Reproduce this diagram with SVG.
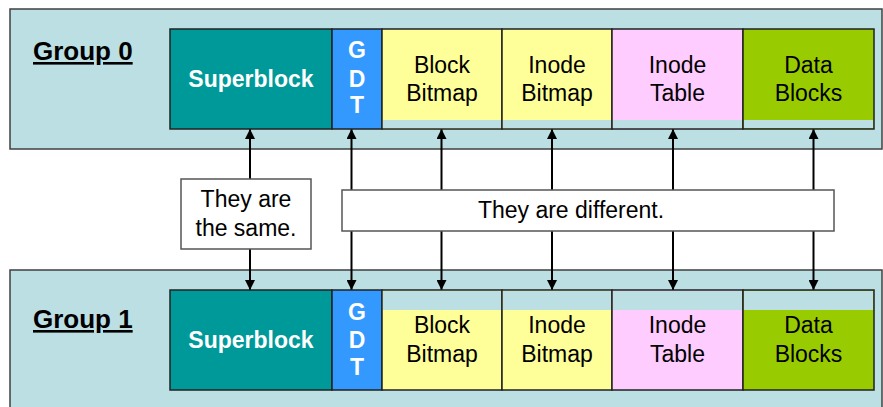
<svg xmlns="http://www.w3.org/2000/svg" width="883" height="407" viewBox="0 0 883 407">
<defs>
<style>
.panel{fill:#BBDFE2;stroke:#404040;stroke-width:1.5}
.blk{stroke:#222;stroke-width:1.5}
.strip{fill:#BBDFE2;stroke:none}
.t{font-family:"Liberation Sans",Arial,sans-serif;font-size:23px;fill:#000;text-anchor:middle}
.w{font-family:"Liberation Sans",Arial,sans-serif;font-size:23px;font-weight:bold;fill:#fff;text-anchor:middle}
.g{font-family:"Liberation Sans",Arial,sans-serif;font-size:26px;font-weight:bold;fill:#000;text-decoration:underline}
.lbl{fill:#fff;stroke:#555;stroke-width:1.5}
.c{stroke:#000;stroke-width:2;fill:none;marker-start:url(#ah);marker-end:url(#ah)}
</style>
<marker id="ah" viewBox="0 0 10 10" refX="10" refY="5" markerWidth="5" markerHeight="5" orient="auto-start-reverse" markerUnits="strokeWidth">
<path d="M0,0 L10,5 L0,10 z" fill="#000"/>
</marker>
</defs>
<rect x="10" y="9" width="872" height="140" class="panel"/>
<rect x="10" y="270" width="872" height="145" class="panel"/>
<text x="33" y="60" class="g">Group 0</text>
<text x="33" y="328" class="g">Group 1</text>

<g id="connectors">
<line x1="250" y1="129" x2="250" y2="290" class="c"/>
<line x1="351.5" y1="129" x2="351.5" y2="290" class="c"/>
<line x1="441.5" y1="129" x2="441.5" y2="290" class="c"/>
<line x1="552" y1="129" x2="552" y2="290" class="c"/>
<line x1="673" y1="129" x2="673" y2="290" class="c"/>
<line x1="813.5" y1="129" x2="813.5" y2="290" class="c"/>
</g>

<g id="same">
<rect x="181" y="179" width="130" height="70" class="lbl"/>
<text x="246" y="207" class="t">They are</text>
<text x="246" y="236" class="t">the same.</text>
</g>
<g id="different">
<rect x="342" y="190" width="492" height="41" class="lbl"/>
<text x="571" y="218" class="t">They are different.</text>
</g>

<g id="g0-superblock">
<rect x="170" y="29" width="162" height="100" fill="#009999" class="blk"/>
<text x="251" y="87" class="w">Superblock</text>
</g>
<g id="g0-gdt">
<rect x="332" y="29" width="50" height="100" fill="#3399FF" class="blk"/>
<text x="357" y="58" class="w">G</text>
<text x="357" y="87" class="w">D</text>
<text x="357" y="113" class="w">T</text>
</g>
<g id="g0-blockbitmap">
<rect x="382" y="29" width="120" height="100" fill="#FFFF99" class="blk"/>
<rect x="383" y="120" width="118" height="8" class="strip"/>
<text x="442" y="73" class="t">Block</text>
<text x="442" y="101" class="t">Bitmap</text>
</g>
<g id="g0-inodebitmap">
<rect x="502" y="29" width="110" height="100" fill="#FFFF99" class="blk"/>
<rect x="503" y="120" width="108" height="8" class="strip"/>
<text x="557" y="73" class="t">Inode</text>
<text x="557" y="101" class="t">Bitmap</text>
</g>
<g id="g0-inodetable">
<rect x="612" y="29" width="131" height="100" fill="#FFCCFF" class="blk"/>
<rect x="613" y="120" width="129" height="8" class="strip"/>
<text x="677.5" y="73" class="t">Inode</text>
<text x="677.5" y="101" class="t">Table</text>
</g>
<g id="g0-datablocks">
<rect x="743" y="29" width="131" height="100" fill="#99CC00" class="blk"/>
<rect x="744" y="120" width="129" height="8" class="strip"/>
<text x="808.5" y="73" class="t">Data</text>
<text x="808.5" y="101" class="t">Blocks</text>
</g>

<g id="g1-superblock">
<rect x="170" y="290" width="162" height="100" fill="#009999" class="blk"/>
<text x="251" y="348" class="w">Superblock</text>
</g>
<g id="g1-gdt">
<rect x="332" y="290" width="50" height="100" fill="#3399FF" class="blk"/>
<text x="357" y="320" class="w">G</text>
<text x="357" y="348" class="w">D</text>
<text x="357" y="375" class="w">T</text>
</g>
<g id="g1-blockbitmap">
<rect x="382" y="290" width="120" height="100" fill="#FFFF99" class="blk"/>
<rect x="383" y="291" width="118" height="19" class="strip"/>
<text x="442" y="333" class="t">Block</text>
<text x="442" y="362" class="t">Bitmap</text>
</g>
<g id="g1-inodebitmap">
<rect x="502" y="290" width="110" height="100" fill="#FFFF99" class="blk"/>
<rect x="503" y="291" width="108" height="19" class="strip"/>
<text x="557" y="333" class="t">Inode</text>
<text x="557" y="362" class="t">Bitmap</text>
</g>
<g id="g1-inodetable">
<rect x="612" y="290" width="131" height="100" fill="#FFCCFF" class="blk"/>
<rect x="613" y="291" width="129" height="19" class="strip"/>
<text x="677.5" y="333" class="t">Inode</text>
<text x="677.5" y="362" class="t">Table</text>
</g>
<g id="g1-datablocks">
<rect x="743" y="290" width="131" height="100" fill="#99CC00" class="blk"/>
<rect x="744" y="291" width="129" height="19" class="strip"/>
<text x="808.5" y="333" class="t">Data</text>
<text x="808.5" y="362" class="t">Blocks</text>
</g>
</svg>
